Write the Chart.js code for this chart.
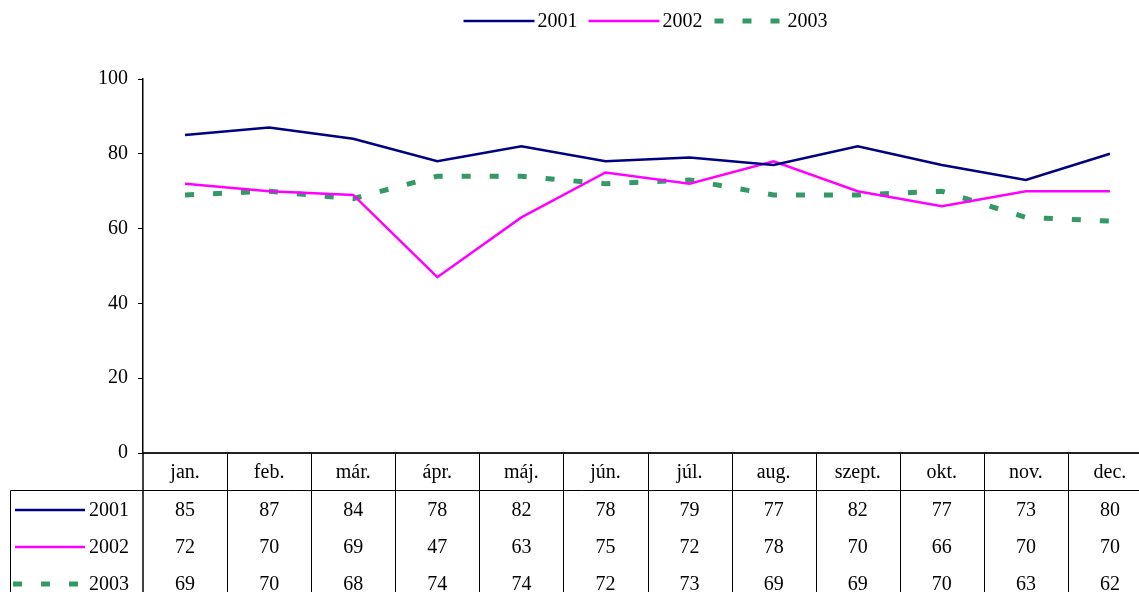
<!DOCTYPE html>
<html><head><meta charset="utf-8">
<script src="https://cdn.jsdelivr.net/npm/chart.js@4/dist/chart.umd.min.js"></script>
<style>
html,body{margin:0;padding:0;background:#fff;overflow:hidden;width:1139px;height:592px}
#wrap{position:relative;width:1160px;height:592px}
canvas{display:block}
</style></head><body>
<div id="wrap"><canvas id="c" width="1160" height="592"></canvas></div>
<script>
const months = ['jan.','feb.','már.','ápr.','máj.','jún.','júl.','aug.','szept.','okt.','nov.','dec.'];
const seriesNames = ['2001','2002','2003'];
const values2001 = [85,87,84,78,82,78,79,77,82,77,73,80];
const values2002 = [72,70,69,47,63,75,72,78,70,66,70,70];
const values2003 = [69,70,68,74,74,72,73,69,69,70,63,62];
const yTicks = [0,20,40,60,80,100];

const FAMILY = '"Liberation Serif", "Times New Roman", serif';
const FONT = '20px ' + FAMILY;
const styles = [
  {color:'#000080', width:2.5, dash:[]},
  {color:'#FF00FF', width:2.5, dash:[]},
  {color:'#339966', width:5, dash:[9,19]}
];
const allValues = [values2001, values2002, values2003];

function line(ctx,x1,y1,x2,y2){ctx.beginPath();ctx.moveTo(x1,y1);ctx.lineTo(x2,y2);ctx.stroke();}
function sample(ctx,st,x1,x2,y){
  ctx.save();ctx.strokeStyle=st.color;ctx.lineWidth=st.width;ctx.setLineDash(st.dash);ctx.lineCap='butt';
  line(ctx,x1,y,x2,y);ctx.restore();
}

const tablePlugin = {
  id:'tbl',
  afterDraw(chart){
    const {ctx, chartArea:ca} = chart;
    const x = chart.scales.x;
    const H = chart.height;
    const colW = x.getPixelForValue(1)-x.getPixelForValue(0);
    ctx.save();
    ctx.strokeStyle='#000'; ctx.lineWidth=1;
    for(let i=1;i<=months.length;i++){
      const px = Math.round(x.getPixelForValue(0)-colW/2 + i*colW)+0.5;
      line(ctx,px,ca.bottom,px,H);
    }
    ctx.lineWidth=1.5;
    line(ctx,ca.left,ca.bottom,ca.left,H);
    ctx.lineWidth=1;
    const hy = ca.bottom+37.5;
    line(ctx,10.5,hy,ca.right,hy);
    line(ctx,10.5,hy,10.5,H);
    ctx.font = FONT; ctx.fillStyle='#000'; ctx.textBaseline='middle';
    allValues.forEach((vals,r)=>{
      const y = ca.bottom + 57 + r*37;
      const st = styles[r];
      if(st.dash.length) sample(ctx,st,13,80,y); else sample(ctx,st,15,85,y);
      ctx.textAlign='right';
      ctx.fillText(seriesNames[r],129,y+1);
      ctx.textAlign='center';
      vals.forEach((v,i)=>ctx.fillText(String(v), x.getPixelForValue(i), y+1));
    });
    const gapText=3, sw=71, itemGap=11;
    const widths = seriesNames.map(n=>ctx.measureText(n).width);
    const total = seriesNames.length*(sw+gapText) + widths.reduce((a,b)=>a+b,0) + itemGap*(seriesNames.length-1);
    let lx = (ca.left+ca.right)/2 - 2 - total/2;
    const ly = 21;
    ctx.textAlign='left';
    seriesNames.forEach((n,r)=>{
      const st = styles[r];
      if(st.dash.length) sample(ctx,st,lx+1,lx+sw,ly); else sample(ctx,st,lx,lx+sw,ly);
      ctx.fillText(n, lx+sw+gapText, ly+1);
      lx += sw+gapText+widths[r]+itemGap;
    });
    ctx.restore();
  }
};

new Chart(document.getElementById('c'), {
  type:'line',
  data:{
    labels: months,
    datasets: allValues.map((vals,r)=>({
      label: seriesNames[r],
      data: vals,
      borderColor: styles[r].color,
      backgroundColor: styles[r].color,
      borderWidth: styles[r].width,
      borderDash: styles[r].dash,
      pointRadius: 0,
      tension: 0,
      fill: false
    }))
  },
  options:{
    responsive:false,
    animation:false,
    devicePixelRatio:1,
    layout:{padding:{top:79,right:8,left:0,bottom:0}},
    plugins:{legend:{display:false},tooltip:{enabled:false}},
    scales:{
      x:{
        type:'category',
        offset:true,
        grid:{display:true,drawOnChartArea:false,drawTicks:false,offset:true,color:'rgba(0,0,0,0)'},
        border:{display:true,color:'#222',width:2},
        ticks:{color:'#000',font:{family:FAMILY,size:20},padding:8,maxRotation:0,autoSkip:false},
        afterFit(scale){scale.height = 139;}
      },
      y:{
        min:0,max:100,
        afterBuildTicks(scale){scale.ticks = yTicks.map(v=>({value:v}));},
        grid:{display:true,drawOnChartArea:false,drawTicks:true,tickLength:5,color:'#000'},
        border:{display:true,color:'#000',width:1.5},
        ticks:{color:'#000',font:{family:FAMILY,size:20},padding:10},
        afterFit(scale){scale.width = 143;}
      }
    }
  },
  plugins:[tablePlugin]
});
</script>
</body></html>
